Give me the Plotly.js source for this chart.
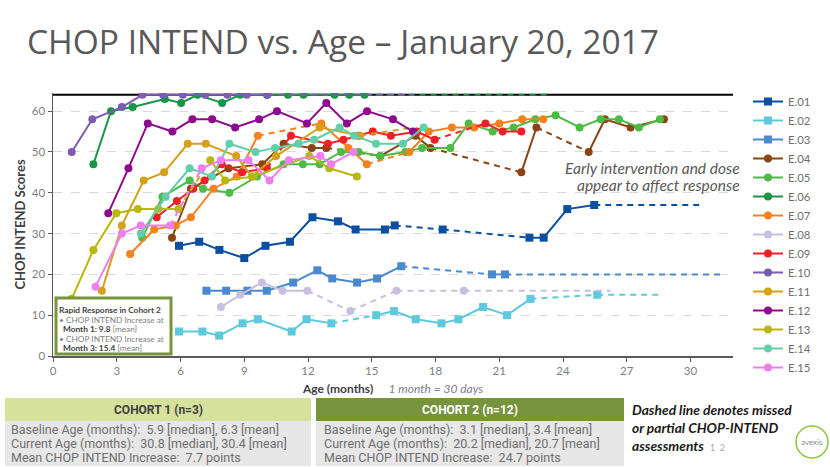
<!DOCTYPE html>
<html><head><meta charset="utf-8">
<script src="https://cdn.plot.ly/plotly-3.0.1.min.js"></script>
<style>html,body{margin:0;padding:0;background:#fff}#chart{width:830px;height:467px}</style>
</head><body><div id="chart"></div>
<script>
// ---------- DATA ----------
const subjects = ['E.01','E.02','E.03','E.04','E.05','E.06','E.07','E.08','E.09','E.10','E.11','E.12','E.13','E.14','E.15'];
const maxScore = 64;
const xTicks = [0,3,6,9,12,15,18,21,24,27,30];
const yTicks = [0,10,20,30,40,50,60];

// age (months), CHOP INTEND score, 1 = segment leading to this visit is dashed (missed/partial), dashed tail [age, score]
const e01Age   = [5.93,6.88,7.83,9.0,10.0,11.15,12.21,13.41,14.24,15.62,16.08,18.34,22.42,23.09,24.2,25.47];
const e01Score = [27,28,26,24,27,28,34,33,31,31,32,31,29,29,36,37];
const e01Dash  = [0,0,0,0,0,0,0,0,0,0,0,1,1,0,0,0];
const e01Tail  = [30.63,37];

const e02Age   = [5.93,7.03,7.82,8.92,9.64,11.23,11.93,13.1,15.21,16.05,17.07,18.28,19.08,20.24,21.37,22.47,25.61];
const e02Score = [6,6,5,8,9,6,9,8,10,11,9,8,9,12,10,14,15];
const e02Dash  = [0,0,0,0,0,0,0,0,1,0,0,0,0,0,0,0,1];
const e02Tail  = [28.64,15];

const e03Age   = [7.22,8.15,9.15,10.06,11.3,12.44,13.14,14.31,15.25,16.39,20.66,21.27];
const e03Score = [16,16,16,16,18,21,19,18,19,22,20,20];
const e03Dash  = [0,0,0,0,0,0,0,0,0,0,1,0];
const e03Tail  = [31.42,20];

const e04Age   = [5.6,6.49,8.26,9.85,10.85,12.18,12.86,15.4,17.06,17.76,22.04,22.75,25.21,25.97,27.18,28.75];
const e04Score = [29,41,46,47,52,51,51,49,54,51,45,56,50,58,56,58];
const e04Dash  = [0,0,0,0,0,0,0,1,0,0,1,0,1,0,0,0];
const e04Tail  = null;

const e05Age   = [4.2,5.15,6.43,7.06,8.3,9.6,10.85,11.76,12.55,13.56,14.38,15.4,16.58,17.37,18.7,19.56,20.69,21.68,22.7,23.65,24.78,25.77,26.63,27.57,28.56];
const e05Score = [29,39,43,41,40,44,47,47,47,50,50,49,50,51,51,57,55,56,58,59,56,58,58,56,58];
const e05Dash  = [0,0,0,0,0,0,0,0,0,0,0,0,0,0,0,0,0,0,0,0,0,0,0,0,0];
const e05Tail  = null;

const e06Age   = [1.9,2.73,3.75,5.26,6.03,6.8,7.96,8.81,10.09,11.06,11.79,13.25,13.94,14.66];
const e06Score = [47,60,61,63,62,64,62,64,64,64,64,64,64,64];
const e06Dash  = [0,0,0,0,0,0,0,0,0,0,0,0,0,0];
const e06Tail  = [23.4,64];

const e07Age   = [3.63,4.76,5.78,6.49,7.55,8.65,9.64,12.63,13.9,14.77,16.77,17.68,18.77,19.83,21.0,22.08,23.07];
const e07Score = [25,31,32,34,41,44,54,57,51,47,50,55,56,56,57,58,58];
const e07Dash  = [0,0,0,0,0,0,0,1,0,0,1,0,0,0,0,0,0];
const e07Tail  = null;

const e08Age   = [7.9,8.81,9.83,10.8,11.97,13.99,16.16,19.33];
const e08Score = [12,15,18,16,16,11,16,16];
const e08Dash  = [0,0,0,0,0,1,1,1];
const e08Tail  = [26.24,16];

const e09Age   = [4.88,5.83,6.6,7.13,7.94,8.9,10.07,11.2,12.94,13.67,14.38,15.05,15.9,17.13,17.96,20.35,21.16,22.04];
const e09Score = [34,38,41,43,47,45,46,54,52,53,54,55,54,55,53,57,55,55];
const e09Dash  = [0,0,0,0,0,0,0,1,0,0,0,0,0,0,0,1,0,0];
const e09Tail  = null;

const e10Age   = [0.88,1.85,3.24,4.21,5.18,6.11,7.16,8.21,9.12,10.07];
const e10Score = [50,58,61,64,64,64,64,64,64,64];
const e10Dash  = [0,0,0,0,0,0,0,0,0,0];
const e10Tail  = [17.0,64];

const e11Age   = [2.3,3.24,4.27,5.23,6.34,7.19,8.62,9.36,10.5,12.55,14.45];
const e11Score = [16,32,43,45,52,52,49,44,49,56,54];
const e11Dash  = [0,0,0,0,0,0,0,0,0,0,0];
const e11Tail  = [16.96,56];

const e12Age   = [2.6,3.55,4.46,5.62,6.56,7.49,8.57,9.7,10.54,11.95,12.86,13.83,14.78,16.0,16.94];
const e12Score = [35,46,57,55,58,58,56,58,60,57,62,57,60,58,55];
const e12Dash  = [0,0,0,0,0,0,0,0,0,0,0,0,0,0,0];
const e12Tail  = null;

const e13Age   = [0.88,1.9,2.98,3.99,4.96,5.9,7.4,8.1,9.43,12.06,13.0,14.3];
const e13Score = [14,26,35,36,36,36,48,43,44,49,46,44];
const e13Dash  = [0,0,0,0,0,0,1,0,0,0,0,0];
const e13Tail  = null;

const e14Age   = [4.13,5.3,6.43,7.48,8.3,9.53,10.45,11.55,12.29,13.49,14.17,15.2,16.47,17.44];
const e14Score = [30,39,46,44,52,50,51,52,53,56,54,52,52,56];
const e14Dash  = [0,0,0,0,0,0,0,0,0,0,0,0,0,0];
const e14Tail  = null;

const e15Age   = [2.0,3.24,4.13,5.51,7.0,7.9,9.2,10.19,11.1,12.58,13.09,14.14];
const e15Score = [17,30,32,32,46,48,48,43,48,49,47,50];
const e15Dash  = [0,0,0,0,1,0,0,0,0,0,0,0];
const e15Tail  = null;

// ---------- STYLE ----------
const colors = ['#0b4fa2','#5ec9dc','#4a89cf','#8b4514','#4dbb48','#1a9446','#f5821f','#c9bfe0','#ee2129','#7d5bb4','#d3a11a','#8e0b8e','#b8b80c','#62cfab','#f07ef0'];
const symbols = ['square','square','square','circle','circle','circle','circle','circle','circle','circle','circle','circle','circle','circle','circle'];

const series = [
  [e01Age,e01Score,e01Dash,e01Tail],[e02Age,e02Score,e02Dash,e02Tail],[e03Age,e03Score,e03Dash,e03Tail],
  [e04Age,e04Score,e04Dash,e04Tail],[e05Age,e05Score,e05Dash,e05Tail],[e06Age,e06Score,e06Dash,e06Tail],
  [e07Age,e07Score,e07Dash,e07Tail],[e08Age,e08Score,e08Dash,e08Tail],[e09Age,e09Score,e09Dash,e09Tail],
  [e10Age,e10Score,e10Dash,e10Tail],[e11Age,e11Score,e11Dash,e11Tail],[e12Age,e12Score,e12Dash,e12Tail],
  [e13Age,e13Score,e13Dash,e13Tail],[e14Age,e14Score,e14Dash,e14Tail],[e15Age,e15Score,e15Dash,e15Tail]
];

const traces = [];
series.forEach((s, k) => {
  const [age, score, dash, tail] = s;
  const sx=[], sy=[], dx=[], dy=[];
  for (let i=0;i<age.length;i++){
    if (i>0 && dash[i]) { sx.push(null); sy.push(null); dx.push(age[i-1],age[i],null); dy.push(score[i-1],score[i],null); }
    sx.push(age[i]); sy.push(score[i]);
  }
  if (tail) { dx.push(age[age.length-1],tail[0],null); dy.push(score[score.length-1],tail[1],null); }
  if (dx.length) traces.push({x:dx,y:dy,type:'scatter',mode:'lines',showlegend:false,hoverinfo:'skip',
    line:{color:colors[k],width:2,dash:'6px,5px'},connectgaps:false});
  traces.push({x:sx,y:sy,type:'scatter',mode:'lines+markers',name:subjects[k],connectgaps:false,
    line:{color:colors[k],width:2},marker:{color:colors[k],symbol:symbols[k],size:8}});
});

// ---------- LAYOUT ----------
const L=53,R=733,T=93,B=356;
const px = x => (x-L)/(R-L);
const py = y => (B-y)/(B-T);
const FONT = 'Lato, "Open Sans", sans-serif';
const NARROW = '"Liberation Sans Narrow", "Roboto", sans-serif';

const shapes = [
  {type:'line',xref:'x',yref:'y',x0:0,x1:32,y0:maxScore,y1:maxScore,line:{color:'#000',width:2},layer:'below'},
  {type:'rect',xref:'paper',yref:'paper',x0:px(56),x1:px(171),y0:py(298),y1:py(354),line:{color:'#77933c',width:3},fillcolor:'#fff',layer:'above'},
  {type:'rect',xref:'paper',yref:'paper',x0:px(5),x1:px(311),y0:py(398),y1:py(421),line:{width:0},fillcolor:'#d6e29c'},
  {type:'rect',xref:'paper',yref:'paper',x0:px(5),x1:px(311),y0:py(421),y1:py(466),line:{width:0},fillcolor:'#e7e7e7'},
  {type:'rect',xref:'paper',yref:'paper',x0:px(316),x1:px(624),y0:py(398),y1:py(421),line:{width:0},fillcolor:'#77933c'},
  {type:'rect',xref:'paper',yref:'paper',x0:px(316),x1:px(624),y0:py(421),y1:py(466),line:{width:0},fillcolor:'#e7e7e7'},
  {type:'circle',xref:'paper',yref:'paper',x0:px(796),x1:px(828),y0:py(426),y1:py(458),line:{color:'#8cc63f',width:1.5}}
];

const ann = (x,y,text,opt={}) => Object.assign({xref:'paper',yref:'paper',x:px(x),y:py(y),text,showarrow:false,
  xanchor:'left',yanchor:'middle',font:{family:FONT,size:12,color:'#595959'}},opt);

const annotations = [
  ann(742,168,'<i>Early intervention and dose</i>',{xanchor:'right',font:{family:FONT,size:15.5,color:'#595959'}}),
  ann(742,185,'<i>appear to affect response</i>',{xanchor:'right',font:{family:FONT,size:15.5,color:'#595959'}}),
  ann(57,310,'<b>Rapid Response in Cohort 2</b>',{font:{family:FONT,size:8.3,color:'#404040'}}),
  ann(57,319.7,'• CHOP INTEND Increase at',{font:{family:FONT,size:8.3,color:'#808080'}}),
  ann(61,329.3,'<b><span style="color:#404040">Month 1: 9.8</span></b> [mean]',{font:{family:FONT,size:8.3,color:'#808080'}}),
  ann(57,339,'• CHOP INTEND Increase at',{font:{family:FONT,size:8.3,color:'#808080'}}),
  ann(61,348.3,'<b><span style="color:#404040">Month 3: 15.4</span></b> [mean]',{font:{family:FONT,size:8.3,color:'#808080'}}),
  ann(158,410,'<b>COHORT 1 (n=3)</b>',{xanchor:'center',font:{family:NARROW,size:12,color:'#404040'}}),
  ann(470,410,'<b>COHORT 2 (n=12)</b>',{xanchor:'center',font:{family:NARROW,size:12,color:'#ffffff'}}),
  ann(9,429,'Baseline Age (months):  5.9 [median], 6.3 [mean]',{font:{family:NARROW,size:12.5,color:'#6e6e6e'}}),
  ann(9,443,'Current Age (months):  30.8 [median], 30.4 [mean]',{font:{family:NARROW,size:12.5,color:'#6e6e6e'}}),
  ann(9,457,'Mean CHOP INTEND Increase:  7.7 points',{font:{family:NARROW,size:12.5,color:'#6e6e6e'}}),
  ann(322,429,'Baseline Age (months):  3.1 [median], 3.4 [mean]',{font:{family:NARROW,size:12.5,color:'#6e6e6e'}}),
  ann(322,443,'Current Age (months):  20.2 [median], 20.7 [mean]',{font:{family:NARROW,size:12.5,color:'#6e6e6e'}}),
  ann(322,457,'Mean CHOP INTEND Increase:  24.7 points',{font:{family:NARROW,size:12.5,color:'#6e6e6e'}}),
  ann(630,409,'<b><i>Dashed line denotes missed</i></b>',{font:{family:FONT,size:13.8,color:'#1a1a1a'}}),
  ann(630,427,'<b><i>or partial CHOP-INTEND</i></b>',{font:{family:FONT,size:13.8,color:'#1a1a1a'}}),
  ann(630,445,'<b><i>assessments</i></b>',{font:{family:FONT,size:13.8,color:'#1a1a1a'}}),
  ann(708,448,'1  2',{font:{family:FONT,size:9,color:'#a6a6a6'}}),
  ann(812,442,'avexis',{xanchor:'center',font:{family:FONT,size:8,color:'#8c8c8c'}})
];

const layout = {
  width:830,height:467,
  margin:{l:L,r:830-R,t:T,b:467-B},
  paper_bgcolor:'#fff',plot_bgcolor:'#fff',
  font:{family:FONT,color:'#808080'},
  title:{text:'CHOP INTEND vs. Age – January 20, 2017',xref:'container',yref:'container',x:27/830,xanchor:'left',
    y:1-42/467,yanchor:'middle',font:{family:'"Open Sans", sans-serif',size:33.5,color:'#595959'}},
  showlegend:true,
  legend:{x:px(748),y:py(87),xanchor:'left',yanchor:'top',font:{family:FONT,size:11.3,color:'#6e6e6e'},
    bgcolor:'rgba(0,0,0,0)',itemwidth:30,tracegroupgap:0,maxheight:360},
  xaxis:{range:[0,32],tickvals:xTicks,ticktext:xTicks.map(String),showgrid:false,zeroline:false,
    showline:true,linecolor:'#595959',linewidth:1.5,ticks:'outside',ticklen:4,tickcolor:'#595959',
    tickfont:{family:FONT,size:11.5,color:'#808080'},
    title:{text:'<b><span style="color:#404040">Age (months)</span></b>     <i>1 month = 30 days</i>',standoff:8,
      font:{family:FONT,size:12,color:'#808080'}}},
  yaxis:{range:[0,64.45],tickvals:yTicks,showgrid:true,gridcolor:'#d9d9d9',griddash:'dash',gridwidth:1,zeroline:false,
    showline:true,linecolor:'#595959',linewidth:1.5,ticks:'outside',ticklen:4,tickcolor:'#595959',
    tickfont:{family:FONT,size:11.5,color:'#808080'},
    title:{text:'<b>CHOP INTEND Scores</b>',standoff:3,font:{family:FONT,size:13,color:'#404040'}}},
  shapes,annotations
};

Plotly.newPlot('chart',traces,layout,{displayModeBar:false,staticPlot:true});
</script></body></html>
